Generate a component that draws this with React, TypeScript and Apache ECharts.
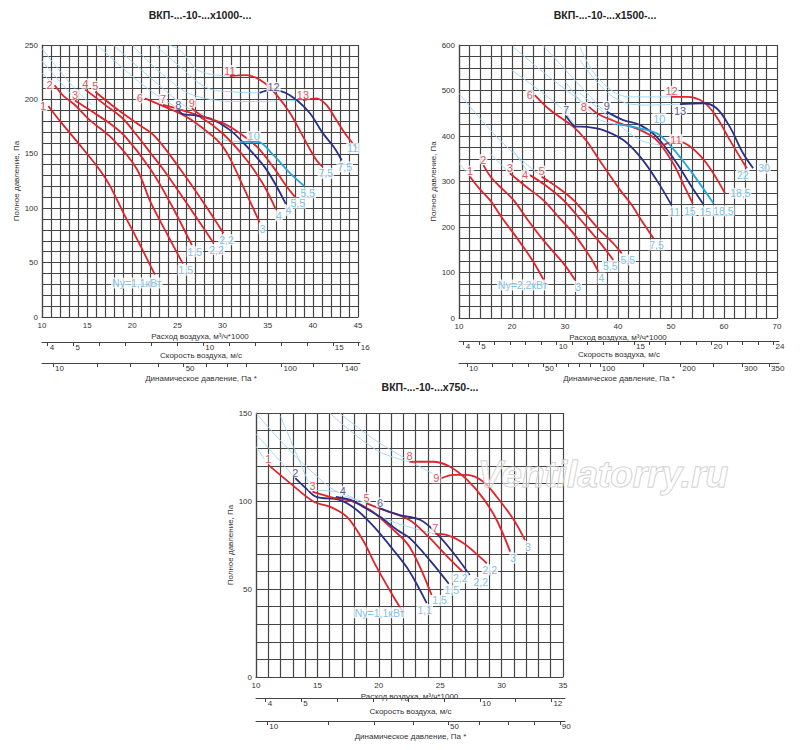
import React, { useEffect, useRef } from "react";
import * as echarts from "echarts";

const RED = "#e0242c";
const BLUE = "#2b3087";
const CYAN = "#27a6de";
const TAG = "#5cb2e3";
const THIN = "#9ad5ef";
const GRIDC = "#454545";
const FONT = '"Liberation Sans", Arial, sans-serif';

// ================= chart A : x1000 =================
const A_TITLE = "ВКП-...-10-...х1000-...";
const A_X_LABELS = [10, 15, 20, 25, 30, 35, 40, 45];
const A_Y_LABELS = [0, 50, 100, 150, 200, 250];
const A_VEL_TICKS = [4, 5, 6, 7, 8, 9, 10, 11, 12, 13, 14, 15, 16];
const A_VEL_LABELS = [4, 5, 10, 15, 16];
const A_PD_TICKS = [10, 20, 30, 40, 50, 60, 70, 80, 100, 120, 140];
const A_PD_LABELS = [10, 50, 100, 140];

const A1 = [[10.7, 194], [12, 180], [14.6, 154], [16.5, 134], [17.5, 121], [19, 96], [20.5, 72], [22.5, 39]];
const A2 = [[11.4, 213], [12.4, 203], [13.5, 196], [15.3, 181], [17.9, 163], [20.5, 136], [22, 106], [24, 74], [25.6, 49]];
const A3 = [[13.65, 199], [15.5, 189], [17.5, 178], [19.2, 166], [22, 136], [24.2, 105], [26.6, 66]];
const A4 = [[14.8, 209], [17, 195], [19, 182], [20.5, 167], [22, 151], [23.4, 136], [26, 105], [29, 68]];
const A5 = [[15.9, 207], [18, 193], [20.5, 178], [22.5, 166], [25.3, 136], [27.9, 105], [30.1, 77]];
const A6 = [[21.4, 201], [24.5, 190], [26, 184], [27.9, 173], [29.7, 160], [30.8, 146], [32.5, 116], [34.1, 87]];
const A7 = [[23.4, 195], [25.6, 190], [27.5, 184], [30.1, 168], [32.6, 145], [34.5, 122], [35.9, 99]];
const A8 = [[25.1, 190], [25.6, 186.5], [26.8, 185.5], [28.6, 182.5], [30.8, 172], [32.7, 156.5], [34.9, 135], [37, 104]];
const A9 = [[26.6, 192], [27.9, 184], [30.1, 178], [31.9, 169], [33.8, 156.5], [35.6, 138], [37.1, 120], [38, 110.6]];
const A10 = [[31.9, 161], [33.9, 161], [35.6, 149], [37.5, 132], [39.1, 120]];
const A11 = [[30.8, 221.5], [32.7, 222.4], [34.5, 216], [36, 204], [37.5, 187], [38.9, 166], [40.4, 144], [41.1, 138]];
const A12 = [[34.1, 206], [35.2, 208.6], [36.7, 207], [38.2, 199.4], [39.7, 187], [41.1, 169], [42.3, 156.5], [43.2, 144]];
const A13 = [[38.9, 199.4], [40.4, 201], [41.5, 195], [42.6, 181], [43.7, 167], [44.9, 155]];

const A_CURVES = [
  { id: "1", pts: A1, color: RED, end: "Ny=1,1кВт" },
  { id: "2", pts: A2, color: RED, end: "1,5" },
  { id: "3", pts: A3, color: RED, end: "1,5" },
  { id: "4", pts: A4, color: RED, end: "2,2" },
  { id: "5", pts: A5, color: RED, end: "2,2" },
  { id: "6", pts: A6, color: RED, end: "3" },
  { id: "7", pts: A7, color: RED, end: "4" },
  { id: "8", pts: A8, color: BLUE, end: "4" },
  { id: "9", pts: A9, color: RED, end: "5,5" },
  { id: "10", pts: A10, color: CYAN, end: "5,5" },
  { id: "11", pts: A11, color: RED, end: "7,5" },
  { id: "12", pts: A12, color: BLUE, end: "7,5" },
  { id: "13", pts: A13, color: RED, end: "11" },
];

const A_THIN = [
  [[9.5, 252], [13.3, 213], [15.5, 195]],
  [[9.5, 240], [13.8, 199]],
  [[9.5, 228], [11.4, 213]],
  [[16.1, 250], [20.9, 215], [23.8, 198], [26, 187], [27.5, 173], [29.5, 164], [31.9, 161]],
  [[17.9, 250], [22.7, 215], [26, 193], [28, 186]],
  [[24, 250], [25.3, 245], [27.5, 226], [30.8, 221.5]],
  [[22.5, 250], [25.3, 230], [28.2, 211], [31, 207], [34.1, 206]],
  [[20, 250], [23.5, 222], [27.1, 203], [32.7, 198], [38.9, 199.4]],
];

// ================= chart B : x1500 =================
const B_TITLE = "ВКП-...-10-...х1500-...";
const B_X_LABELS = [10, 20, 30, 40, 50, 60, 70];
const B_Y_LABELS = [0, 100, 200, 300, 400, 500, 600];
const B_VEL_TICKS = [4, 5, 6, 7, 8, 9, 10, 11, 12, 13, 14, 15, 16, 17, 18, 19, 20, 21, 22, 23, 24];
const B_VEL_LABELS = [4, 5, 10, 15, 20, 24];
const B_PD_TICKS = [10, 20, 30, 40, 50, 60, 70, 80, 90, 100, 150, 200, 250, 300, 350];
const B_PD_LABELS = [10, 50, 100, 200, 300, 350];

const B1 = [[12.1, 310.6], [13.8, 285], [15.85, 259], [18, 222], [20.3, 186], [22.2, 155], [24, 124], [26.5, 72.5]];
const B2 = [[14.6, 336], [16, 310], [17.7, 289], [20.3, 259], [23, 215], [25.9, 171], [29.7, 120], [31.9, 83.5]];
const B3 = [[19.6, 318], [22.5, 290], [25.9, 259], [28.8, 222], [31.6, 186], [34.7, 135], [36.3, 102]];
const B4 = [[23.4, 314], [26.5, 290], [29.7, 259], [34.1, 200], [37.2, 157], [39.1, 127.5]];
const B5 = [[25.6, 310.6], [28, 292], [31.6, 259], [36, 200], [39.1, 164], [40.7, 142]];
const B6 = [[24.3, 490], [27.2, 457], [31.6, 420], [34, 390], [36.6, 345], [40.4, 281], [42.5, 250], [44.5, 213], [46.7, 175]];
const B7 = [[30.2, 444], [31.2, 428], [31.9, 421], [34.1, 420], [37.2, 413], [41, 391], [44.2, 354], [47.3, 303], [50.1, 248]];
const B8 = [[34.5, 464], [36.6, 446], [40.4, 428], [44.2, 413], [47.3, 391], [50.4, 340], [52.5, 290], [54.1, 252]];
const B9 = [[37.9, 453], [41, 435], [44.2, 424], [47.3, 398], [51.1, 340], [53.8, 290], [56.1, 250]];
const B10 = [[39.5, 426], [42.9, 420], [47.3, 406], [49.8, 380], [53.6, 325], [58, 252]];
const B11 = [[48.5, 380], [51.1, 388], [53.6, 377], [56.7, 340], [60.2, 274]];
const B12 = [[50.1, 486], [53, 486], [56.1, 475], [58.6, 442], [61.1, 391], [64.3, 329]];
const B13 = [[51.7, 470], [56.1, 472], [58.6, 461], [61.1, 420], [63.6, 362], [65.5, 329]];

const B_CURVES = [
  { id: "1", pts: B1, color: RED, end: "Ny=2,2кВт" },
  { id: "2", pts: B2, color: RED, end: "3" },
  { id: "3", pts: B3, color: RED, end: "4" },
  { id: "4", pts: B4, color: RED, end: "5,5" },
  { id: "5", pts: B5, color: RED, end: "5,5" },
  { id: "6", pts: B6, color: RED, end: "7,5" },
  { id: "7", pts: B7, color: BLUE, end: "11" },
  { id: "8", pts: B8, color: RED, end: "15" },
  { id: "9", pts: B9, color: BLUE, end: "15" },
  { id: "10", pts: B10, color: CYAN, end: "18,5" },
  { id: "11", pts: B11, color: RED, end: "18,5" },
  { id: "12", pts: B12, color: RED, end: "22" },
  { id: "13", pts: B13, color: BLUE, end: "30" },
];

const B_THIN = [
  [[10, 494], [17.7, 391], [25.6, 311]],
  [[10, 340], [12.1, 311]],
  [[15.8, 362], [19.6, 318]],
  [[20.2, 369], [23.4, 314]],
  [[19.9, 545], [29, 464], [32, 421]],
  [[20.2, 596], [27, 530], [34.5, 464]],
  [[25.8, 600], [36.6, 464], [37.9, 453]],
  [[32.8, 596], [36.6, 523], [42.3, 486], [50.1, 486]],
  [[32.8, 567], [39.1, 486], [45.4, 468], [51.7, 470]],
  [[32.8, 494], [39.1, 435], [44.2, 391], [48.5, 380]],
  [[30, 520], [36, 440], [39.5, 426]],
];

// ================= chart C : x750 =================
const C_TITLE = "ВКП-...-10-...х750-...";
const C_X_LABELS = [10, 15, 20, 25, 30, 35];
const C_Y_LABELS = [0, 50, 100, 150];
const C_VEL_TICKS = [4, 5, 6, 7, 8, 9, 10, 11, 12];
const C_VEL_LABELS = [4, 5, 10, 12];
const C_PD_TICKS = [10, 20, 30, 40, 50, 60, 70, 80, 90];
const C_PD_LABELS = [10, 50, 90];

const C1 = [[11, 120.5], [12.8, 110], [14.7, 99.6], [16, 96.8], [17.4, 91], [18.7, 77.8], [19.8, 62.7], [21.2, 45.6], [22, 36.5]];
const C2 = [[13.2, 113], [14.1, 107], [14.9, 102.4], [16.8, 100.6], [18.2, 94.9], [19.6, 85.4], [21.2, 72], [22.5, 60], [23.9, 42]];
const C3 = [[14.6, 105.3], [16, 102.4], [17.9, 99.6], [19.3, 94.9], [20.9, 85.4], [22.5, 74], [24.3, 46.6]];
const C4 = [[16.5, 102.4], [17.7, 100.6], [18.7, 96.8], [20.1, 91], [21.5, 83.5], [22.5, 79], [24.2, 66], [25.7, 53]];
const C5 = [[19, 98.7], [20.4, 94.9], [22.5, 89.2], [24, 80], [25.5, 69], [26.8, 60]];
const C6 = [[20.1, 95.8], [21.7, 92], [23.4, 89.2], [24.7, 81.6], [26.1, 70.3], [27.4, 58]];
const C7 = [[24.6, 81.3], [25.5, 80.7], [26.9, 76], [28.2, 68.4], [28.8, 64.6]];
const C8 = [[22.5, 122.3], [24.4, 122.3], [25.8, 119.5], [27.2, 112], [28.5, 101.5], [29.6, 89.2], [30.7, 71.2]];
const C9 = [[25.1, 112.9], [26.1, 114.8], [27.2, 114.8], [28.5, 111], [29.6, 102.4], [31, 89.2], [31.9, 77.8]];

const C_CURVES = [
  { id: "1", pts: C1, color: RED, end: "Ny=1,1кВт" },
  { id: "2", pts: C2, color: BLUE, end: "1,1" },
  { id: "3", pts: C3, color: RED, end: "1,5" },
  { id: "4", pts: C4, color: BLUE, end: "1,5" },
  { id: "5", pts: C5, color: RED, end: "2,2" },
  { id: "6", pts: C6, color: BLUE, end: "2,2" },
  { id: "7", pts: C7, color: RED, end: "2,2" },
  { id: "8", pts: C8, color: RED, end: "3" },
  { id: "9", pts: C9, color: RED, end: "3" },
];

const C_THIN = [
  [[10, 150], [12.2, 132.8], [14.7, 115.7], [16.8, 104.4], [19.3, 98.7]],
  [[10, 138], [13.2, 113]],
  [[10, 131], [11, 120.5]],
  [[12, 148], [14.6, 105.3]],
  [[16, 150], [19.8, 129], [22.5, 122.3]],
  [[16.8, 150], [20.1, 132.8], [25.1, 112.9]],
  [[14.9, 106], [16.8, 105], [20.1, 91], [24.6, 81.3]],
];

// ================= label placement (style only) =================
const A_START_STYLE: Record<string, any> = {
  "1": { position: "left" }, "2": { position: "left" }, "6": { position: "left" },
  "10": { offset: [14, 0] }, "12": { offset: [14, 0] },
};
const A_END_STYLE: Record<string, any> = {
  "1": { offset: [-18, 2] }, "13": { position: "left" },
};
const B_START_STYLE: Record<string, any> = {
  "4": { position: "left" }, "6": { position: "left" }, "8": { position: "left" },
  "10": { offset: [44, 0] }, "11": { offset: [13, 0] }, "13": { position: "bottom" },
};
const B_END_STYLE: Record<string, any> = {
  "1": { position: "left" }, "4": { offset: [-3, 0] }, "5": { offset: [6, 0] },
  "8": { offset: [-3, 1] }, "9": { offset: [2, 1] }, "10": { offset: [10, 1] },
  "11": { position: "right" }, "13": { position: "right" }, "12": { offset: [-4, 0] },
};
const C_START_STYLE: Record<string, any> = {
  "4": { offset: [7, 0] }, "9": { position: "left" },
};
const C_END_STYLE: Record<string, any> = {
  "1": { position: "left" }, "2": { offset: [-2, 0] }, "3": { offset: [8, -1] },
  "5": { offset: [-2, 0] }, "6": { offset: [11, 1] },
};

type Cfg = {
  title: string; titleX: number; titleY: number;
  rect: { left: number; top: number; width: number; height: number };
  velY: number; pdY: number;
  xMin: number; xMax: number; xInt: number; xLabels: number[];
  yMax: number; yInt: number; yLabels: number[];
  velMin: number; velMax: number; velTicks: number[]; velLabels: number[];
  pdMin: number; pdMax: number; pdTicks: number[]; pdLabels: number[];
  curves: { id: string; pts: number[][]; color: string; end: string }[];
  thin: number[][][];
  startStyle: Record<string, any>; endStyle: Record<string, any>;
};

const axisText = { fontFamily: FONT, fontSize: 8, color: "#333" };

function build(cfg: Cfg, k: number) {
  const r = cfg.rect;
  const grids = [
    { left: r.left, top: r.top, width: r.width, height: r.height },
    { left: r.left, top: cfg.velY - 1, width: r.width + 2, height: 1 },
    { left: r.left, top: cfg.pdY - 1, width: r.width + 2, height: 1 },
  ];
  const xAxes: any[] = [
    {
      type: "value", gridIndex: k, min: cfg.xMin, max: cfg.xMax, interval: cfg.xInt,
      axisLine: { show: true, lineStyle: { color: GRIDC, width: 1.2 } },
      axisTick: { show: false },
      splitLine: { show: true, lineStyle: { color: GRIDC, width: 1.2 } },
      axisLabel: { ...axisText, margin: 4, customValues: cfg.xLabels },
      name: "Расход воздуха, м³/ч*1000", nameLocation: "middle", nameGap: 15,
      nameTextStyle: axisText,
    },
    {
      type: "value", gridIndex: k + 1, min: cfg.velMin, max: cfg.velMax,
      axisLine: { show: true, lineStyle: { color: "#444", width: 1 } },
      axisTick: { show: true, length: 4, customValues: cfg.velTicks, lineStyle: { color: "#444" } },
      splitLine: { show: false },
      axisLabel: { ...axisText, margin: 1, align: "left", padding: [0, 0, 0, 2], customValues: cfg.velLabels },
      name: "Скорость воздуха, м/с", nameLocation: "middle", nameGap: 9,
      nameTextStyle: axisText,
    },
    {
      type: "value", gridIndex: k + 2, min: cfg.pdMin, max: cfg.pdMax,
      axisLine: { show: true, lineStyle: { color: "#444", width: 1 } },
      axisTick: { show: true, length: 4, customValues: cfg.pdTicks.map(Math.sqrt), lineStyle: { color: "#444" } },
      splitLine: { show: false },
      axisLabel: {
        ...axisText, margin: 1, align: "left", padding: [0, 0, 0, 2],
        customValues: cfg.pdLabels.map(Math.sqrt),
        formatter: (v: number) => String(Math.round(v * v)),
      },
      name: "Динамическое давление, Па *", nameLocation: "middle", nameGap: 11,
      nameTextStyle: axisText,
    },
  ];
  const yAxes: any[] = [
    {
      type: "value", gridIndex: k, min: 0, max: cfg.yMax, interval: cfg.yInt,
      axisLine: { show: true, lineStyle: { color: GRIDC, width: 1.2 } },
      axisTick: { show: false },
      splitLine: { show: true, lineStyle: { color: GRIDC, width: 1.2 } },
      axisLabel: { ...axisText, margin: 4, customValues: cfg.yLabels },
      name: "Полное давление, Па", nameLocation: "middle", nameGap: 21, nameRotate: 90,
      nameTextStyle: axisText,
    },
    { type: "value", gridIndex: k + 1, show: false, min: 0, max: 1 },
    { type: "value", gridIndex: k + 2, show: false, min: 0, max: 1 },
  ];
  const series: any[] = [];
  cfg.thin.forEach((pts) => {
    series.push({
      type: "line", xAxisIndex: k, yAxisIndex: k, data: pts, smooth: 0.4,
      symbol: "none", silent: true, z: 2,
      lineStyle: { color: THIN, width: 0.9 },
    });
  });
  cfg.curves.forEach((c) => {
    series.push({
      type: "line", xAxisIndex: k, yAxisIndex: k, data: c.pts, smooth: 0.35,
      symbol: "none", silent: true, z: 3,
      lineStyle: { color: c.color, width: 1.8 },
    });
  });
  series.push({
    type: "scatter", xAxisIndex: k, yAxisIndex: k, symbolSize: 0, silent: true, z: 6,
    data: cfg.curves.map((c) => ({
      value: c.pts[0],
      label: {
        show: true, formatter: c.id, position: "top", distance: 1,
        color: c.color === CYAN ? TAG : c.color, fontFamily: FONT, fontSize: 11,
        backgroundColor: "#fff", padding: [0, 1, -1, 1],
        ...(cfg.startStyle[c.id] || {}),
      },
    })),
  });
  series.push({
    type: "scatter", xAxisIndex: k, yAxisIndex: k, symbolSize: 0, silent: true, z: 6,
    data: cfg.curves.map((c) => ({
      value: c.pts[c.pts.length - 1],
      label: {
        show: true, formatter: c.end, position: "bottom", distance: 1, offset: [3, 0],
        color: TAG, fontFamily: FONT, fontSize: 10.5,
        backgroundColor: "#fff", padding: [0, 1, 0, 1],
        ...(cfg.endStyle[c.id] || {}),
      },
    })),
  });
  const graphic = {
    type: "text", x: cfg.titleX, y: cfg.titleY, z: 10,
    style: { text: cfg.title, fill: "#222", font: `bold 10.5px ${FONT}`, textAlign: "center", textVerticalAlign: "middle" },
  };
  return { grids, xAxes, yAxes, series, graphic };
}

const CFG_A: Cfg = {
  title: A_TITLE, titleX: 200, titleY: 15,
  rect: { left: 42, top: 45, width: 316, height: 272 }, velY: 342, pdY: 363,
  xMin: 10, xMax: 45, xInt: 1, xLabels: A_X_LABELS,
  yMax: 250, yInt: 10, yLabels: A_Y_LABELS,
  velMin: 3.78, velMax: 16.05, velTicks: A_VEL_TICKS, velLabels: A_VEL_LABELS,
  pdMin: 2.83, pdMax: 12.35, pdTicks: A_PD_TICKS, pdLabels: A_PD_LABELS,
  curves: A_CURVES, thin: A_THIN, startStyle: A_START_STYLE, endStyle: A_END_STYLE,
};
const CFG_B: Cfg = {
  title: B_TITLE, titleX: 605, titleY: 15,
  rect: { left: 459, top: 45, width: 318, height: 273 }, velY: 341, pdY: 363,
  xMin: 10, xMax: 70, xInt: 2, xLabels: B_X_LABELS,
  yMax: 600, yInt: 25, yLabels: B_Y_LABELS,
  velMin: 3.7, velMax: 24.35, velTicks: B_VEL_TICKS, velLabels: B_VEL_LABELS,
  pdMin: 2.75, pdMax: 19.22, pdTicks: B_PD_TICKS, pdLabels: B_PD_LABELS,
  curves: B_CURVES, thin: B_THIN, startStyle: B_START_STYLE, endStyle: B_END_STYLE,
};
const CFG_C: Cfg = {
  title: C_TITLE, titleX: 430, titleY: 387,
  rect: { left: 256, top: 413, width: 307, height: 264 }, velY: 698, pdY: 721,
  xMin: 10, xMax: 35, xInt: 1, xLabels: C_X_LABELS,
  yMax: 150, yInt: 10, yLabels: C_Y_LABELS,
  velMin: 3.73, velMax: 12.38, velTicks: C_VEL_TICKS, velLabels: C_VEL_LABELS,
  pdMin: 2.92, pdMax: 9.6, pdTicks: C_PD_TICKS, pdLabels: C_PD_LABELS,
  curves: C_CURVES, thin: C_THIN, startStyle: C_START_STYLE, endStyle: C_END_STYLE,
};

export default function App() {
  const ref = useRef<HTMLDivElement>(null);
  useEffect(() => {
    if (!ref.current) return;
    const chart = echarts.init(ref.current, undefined, { renderer: "svg" });
    const parts = [build(CFG_A, 0), build(CFG_B, 3), build(CFG_C, 6)];
    const option: any = {
      animation: false,
      backgroundColor: "#fff",
      grid: parts.flatMap((p) => p.grids),
      xAxis: parts.flatMap((p) => p.xAxes),
      yAxis: parts.flatMap((p) => p.yAxes),
      series: parts.flatMap((p) => p.series),
      graphic: [
        ...parts.map((p) => p.graphic),
        {
          type: "text", x: 478, y: 456, z: 20, silent: true,
          style: {
            text: "Ventilatorry.ru", font: `italic bold 37px ${FONT}`,
            fill: "rgba(255,255,255,0.55)", stroke: "#c4c4c4", lineWidth: 1,
          },
        },
      ],
    };
    chart.setOption(option);
    return () => chart.dispose();
  }, []);
  return (
    <div
      ref={ref}
      style={{ position: "absolute", left: 0, top: 0, width: 800, height: 750 }}
    />
  );
}
